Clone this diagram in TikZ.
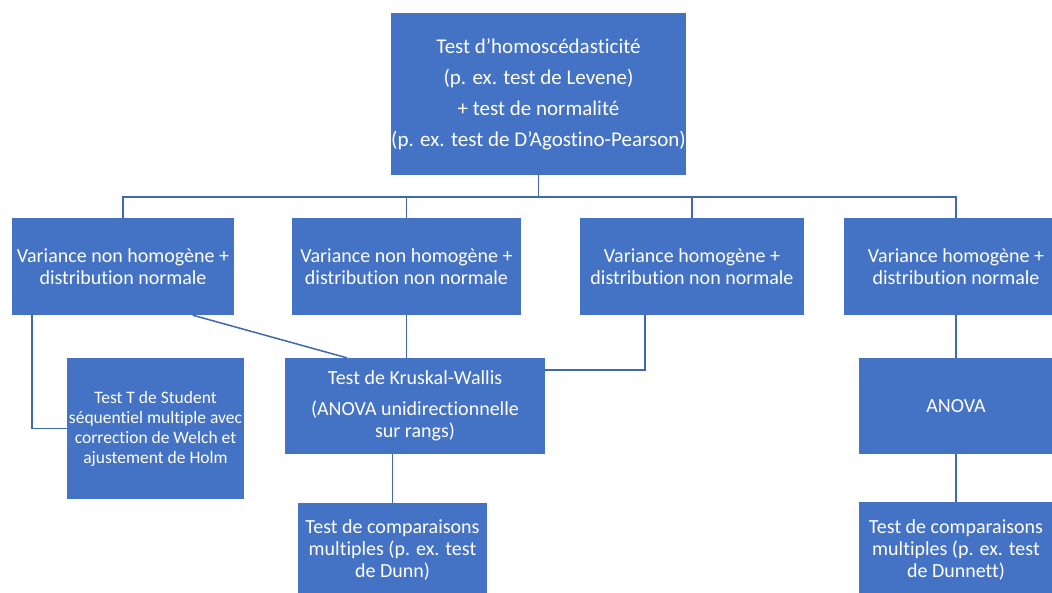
\documentclass[tikz,border=0pt]{standalone}
\usepackage{fontspec}
\setmainfont{Carlito}[Ligatures={NoCommon}]
\definecolor{OffBlue}{HTML}{4472C4}
\definecolor{LinkBlue}{HTML}{4068B0}
\usetikzlibrary{positioning, calc}

\begin{document}
\begin{tikzpicture}[
      x=1pt, y=-1pt,
      every node/.style={align=center, text=white, font=\fontsize{20}{22}\selectfont},
      blk/.style={fill=OffBlue, inner sep=0pt},
      ln/.style={draw=LinkBlue, line width=1.5pt}
   ]
      \useasboundingbox (0,0) rectangle (1052,592);
      % top test
      \node[blk, minimum width=293pt, minimum height=162pt, font=\fontsize{21}{31}\selectfont] (homo) at (538.5,94)
         {Test d’homoscédasticité\\(p. ex. test de Levene)\\+ test de normalité\\(p. ex. test de D’Agostino-Pearson)};
      % four cases
      \node[blk, minimum width=222pt, minimum height=97pt] (nhn) at (123,266.5) {Variance non homogène +\\distribution normale};
      \node[blk, minimum width=229pt, minimum height=97pt] (nhnn) at (406.5,266.5) {Variance non homogène +\\distribution non normale};
      \node[blk, minimum width=224pt, minimum height=97pt] (hnn) at (692,266.5) {Variance homogène +\\distribution non normale};
      \node[blk, minimum width=224pt, minimum height=97pt] (hn) at (956,266.5) {Variance homogène +\\distribution normale};
      % tests
      \node[blk, minimum width=177pt, minimum height=141pt, font=\fontsize{17.5}{20}\selectfont] (student) at (155.5,428.5)
         {Test T de Student\\séquentiel multiple avec\\correction de Welch et\\ajustement de Holm};
      \node[blk, minimum width=260pt, minimum height=96pt] (kw) at (415,406)
         {Test de Kruskal-Wallis\\[9pt](ANOVA unidirectionnelle\\sur rangs)};
      \node[blk, minimum width=194pt, minimum height=96pt] (anova) at (956,406) {ANOVA};
      % post hoc
      \node[blk, minimum width=189pt, minimum height=94pt] (dunn) at (392.5,550)
         {Test de comparaisons\\multiples (p. ex. test\\de Dunn)};
      \node[blk, minimum width=194pt, minimum height=95pt] (dunnett) at (956,549.5)
         {Test de comparaisons\\multiples (p. ex. test\\de Dunnett)};
      \coordinate (bus) at (538.5,197);
      \draw[ln] (homo.south) -- (bus);
      \draw[ln] (nhn.north) |- (bus) -| (hn.north);
      \draw[ln] (nhnn.north) -- (nhnn.north |- bus);
      \draw[ln] (hnn.north) -- (hnn.north |- bus);
      \draw[ln] ([xshift=20pt]nhn.south west) |- (student.west);
      \draw[ln] ([xshift=181pt]nhn.south west) -- ([xshift=62pt]kw.north west);
      \draw[ln] (nhnn.south) -- (nhnn.south |- kw.north);
      \draw[ln] ([xshift=65pt]hnn.south west) |- ([yshift=-12pt]kw.north east);
      \draw[ln] (hn.south) -- (anova.north);
      \draw[ln] (anova.south) -- (dunnett.north);
      \draw[ln] (dunn.north |- kw.south) -- (dunn.north);
   \end{tikzpicture}
\end{document}
